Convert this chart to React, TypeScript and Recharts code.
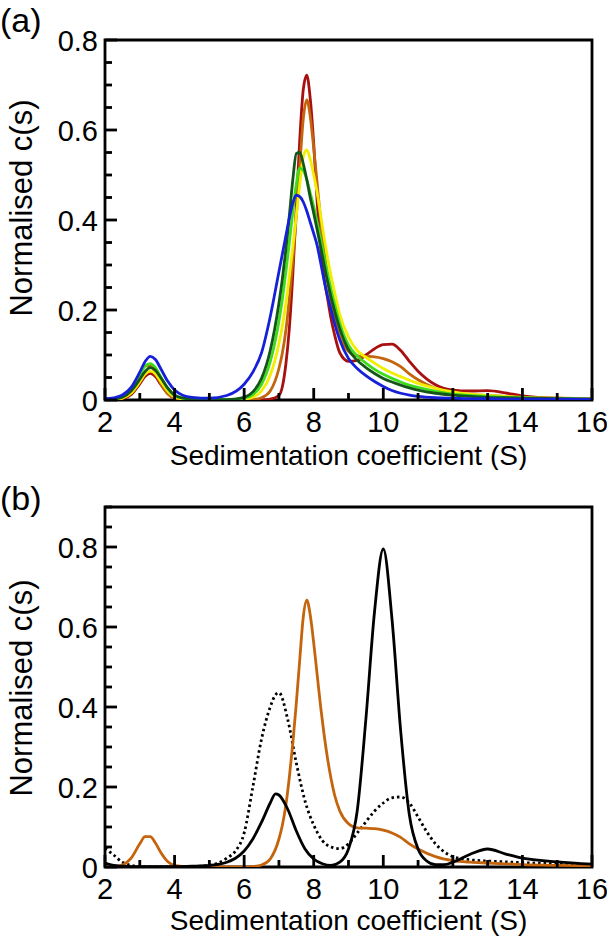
import { LineChart, Line, XAxis, YAxis, ReferenceArea, Label } from "recharts";

const FONT = '"Liberation Sans", Arial, Helvetica, sans-serif';

// sedimentation coefficient grid, panel (a) and the orange run in (b)
const X_A = [
  2, 2.25, 2.5, 2.75, 3, 3.15, 3.3, 3.45, 3.6, 3.8,
  4, 4.25, 4.5, 5, 5.5, 6, 6.25, 6.5, 6.75, 7,
  7.1, 7.2, 7.3, 7.4, 7.5, 7.6, 7.7, 7.8, 7.9, 8,
  8.1, 8.2, 8.3, 8.4, 8.5, 8.6, 8.75, 9, 9.25, 9.5,
  9.75, 10, 10.25, 10.5, 10.75, 11, 11.5, 12, 12.5, 13,
  13.5, 14, 15, 16,
];

const DARK_RED = [
  0, 0, 0.003, 0.012, 0.036, 0.052, 0.059, 0.052, 0.035, 0.015,
  0.005, 0.001, 0, 0, 0, 0, 0, 0, 0.002, 0.01,
  0.03, 0.08, 0.16, 0.28, 0.43, 0.58, 0.69, 0.722, 0.67, 0.57,
  0.44, 0.34, 0.27, 0.225, 0.18, 0.145, 0.105, 0.086, 0.088, 0.1,
  0.114, 0.123, 0.124, 0.11, 0.086, 0.064, 0.034, 0.022, 0.02, 0.021,
  0.016, 0.009, 0.004, 0.003,
];

const ORANGE = [
  0, 0.001, 0.005, 0.022, 0.058, 0.076, 0.076, 0.06, 0.037, 0.014,
  0.004, 0.001, 0, 0, 0, 0, 0.001, 0.005, 0.02, 0.07,
  0.105, 0.155, 0.225, 0.31, 0.41, 0.52, 0.625, 0.667, 0.63, 0.56,
  0.48, 0.4, 0.33, 0.27, 0.22, 0.18, 0.14, 0.108, 0.098, 0.097,
  0.096, 0.092, 0.085, 0.074, 0.058, 0.045, 0.026, 0.016, 0.012, 0.01,
  0.008, 0.006, 0.004, 0.003,
];

const YELLOW = [
  0, 0.001, 0.004, 0.015, 0.04, 0.057, 0.064, 0.058, 0.042, 0.02,
  0.007, 0.002, 0.001, 0, 0, 0.002, 0.006, 0.02, 0.055, 0.125,
  0.165, 0.215, 0.275, 0.34, 0.41, 0.48, 0.54, 0.556, 0.535, 0.5,
  0.46, 0.41, 0.36, 0.315, 0.275, 0.24, 0.19, 0.14, 0.11, 0.095,
  0.082, 0.07, 0.06, 0.052, 0.044, 0.037, 0.026, 0.018, 0.013, 0.01,
  0.008, 0.006, 0.004, 0.003,
];

const LIME = [
  0.001, 0.002, 0.007, 0.024, 0.056, 0.075, 0.081, 0.072, 0.052, 0.026,
  0.01, 0.004, 0.002, 0.001, 0.001, 0.004, 0.012, 0.035, 0.085, 0.175,
  0.225, 0.285, 0.35, 0.42, 0.48, 0.515, 0.51, 0.49, 0.46, 0.43,
  0.395, 0.357, 0.318, 0.28, 0.245, 0.213, 0.17, 0.122, 0.098, 0.082,
  0.068, 0.057, 0.048, 0.04, 0.033, 0.028, 0.019, 0.013, 0.01, 0.008,
  0.006, 0.005, 0.003, 0.002,
];

const DARK_GREEN = [
  0.001, 0.002, 0.006, 0.02, 0.046, 0.063, 0.072, 0.066, 0.05, 0.027,
  0.011, 0.004, 0.002, 0.001, 0.001, 0.006, 0.018, 0.048, 0.11, 0.215,
  0.27, 0.335, 0.41, 0.49, 0.548, 0.55, 0.525, 0.49, 0.45, 0.415,
  0.378, 0.34, 0.3, 0.262, 0.228, 0.198, 0.158, 0.112, 0.088, 0.072,
  0.059, 0.048, 0.04, 0.033, 0.027, 0.022, 0.015, 0.011, 0.008, 0.006,
  0.005, 0.004, 0.003, 0.002,
];

const BLUE = [
  0.003, 0.005, 0.011, 0.028, 0.062, 0.085, 0.097, 0.09, 0.07, 0.042,
  0.022, 0.01, 0.006, 0.004, 0.01, 0.035, 0.062, 0.105, 0.185, 0.285,
  0.325, 0.365, 0.405, 0.438, 0.455, 0.452, 0.44, 0.42, 0.395, 0.37,
  0.343, 0.305, 0.265, 0.23, 0.2, 0.17, 0.133, 0.092, 0.07, 0.054,
  0.041, 0.03, 0.021, 0.015, 0.011, 0.008, 0.005, 0.004, 0.003, 0.003,
  0.002, 0.002, 0.002, 0.002,
];

// grid for the black runs in panel (b)
const X_B = [
  2, 2.25, 2.5, 2.75, 3, 3.5, 4, 4.5, 5, 5.5,
  5.75, 6, 6.25, 6.5, 6.75, 6.9, 7, 7.25, 7.5, 7.75,
  8, 8.25, 8.5, 8.75, 9, 9.25, 9.5, 9.75, 10, 10.25,
  10.5, 10.75, 11, 11.25, 11.5, 11.75, 12, 12.5, 13, 13.5,
  14, 15, 16,
];

const BLACK = [
  0.01, 0.004, 0.002, 0.001, 0.001, 0.001, 0.001, 0.002, 0.004, 0.012,
  0.022, 0.04, 0.07, 0.112, 0.16, 0.183, 0.18, 0.145, 0.09, 0.045,
  0.02, 0.008, 0.004, 0.012, 0.045, 0.14, 0.37, 0.64, 0.795, 0.62,
  0.34, 0.13, 0.045, 0.015, 0.006, 0.006, 0.012, 0.032, 0.045, 0.033,
  0.022, 0.013, 0.007,
];

const DOTTED = [
  0.047, 0.03, 0.012, 0.004, 0.001, 0, 0, 0.001, 0.004, 0.022,
  0.04, 0.085, 0.2, 0.32, 0.4, 0.43, 0.436, 0.37, 0.26, 0.165,
  0.105, 0.066, 0.05, 0.046, 0.058, 0.085, 0.113, 0.14, 0.16, 0.173,
  0.175, 0.16, 0.125, 0.088, 0.058, 0.038, 0.026, 0.018, 0.015, 0.013,
  0.011, 0.008, 0.005,
];

const X_TICKS = [2, 3, 4, 5, 6, 7, 8, 9, 10, 11, 12, 13, 14, 15, 16];
const Y_TICKS_A = [0, 0.05, 0.1, 0.15, 0.2, 0.25, 0.3, 0.35, 0.4, 0.45, 0.5, 0.55, 0.6, 0.65, 0.7, 0.75, 0.8];
const Y_TICKS_B = [0, 0.05, 0.1, 0.15, 0.2, 0.25, 0.3, 0.35, 0.4, 0.45, 0.5, 0.55, 0.6, 0.65, 0.7, 0.75, 0.8, 0.85, 0.9];

const pts = (xs: number[], ys: number[]) => xs.map((x, i) => ({ x, y: ys[i] }));

const SERIES_A = [
  { name: "dark red", color: "#a80f0f", data: pts(X_A, DARK_RED) },
  { name: "orange", color: "#c4640c", data: pts(X_A, ORANGE) },
  { name: "yellow", color: "#f2ee00", data: pts(X_A, YELLOW) },
  { name: "lime", color: "#3fdc1a", data: pts(X_A, LIME) },
  { name: "dark green", color: "#14561a", data: pts(X_A, DARK_GREEN) },
  { name: "blue", color: "#1520d8", data: pts(X_A, BLUE) },
];

const SERIES_B = [
  { name: "dotted", color: "#000", data: pts(X_B, DOTTED), dash: "2.5 3" },
  { name: "orange", color: "#c4640c", data: pts(X_A, ORANGE) },
  { name: "black", color: "#000", data: pts(X_B, BLACK) },
];

const TICK_W = 2.8;
const TICK_FS = 29;
const isMajorY = (v: number) => Math.round(v * 100) % 20 === 0;

function BottomTick(p: any) {
  const v = p.payload.value;
  const major = v % 2 === 0;
  return (
    <g>
      <line x1={p.x} x2={p.x} y1={p.y} y2={p.y - (major ? 12 : 7)} stroke="#000" strokeWidth={TICK_W} />
      {major && (
        <text x={p.x} y={p.y + 32} textAnchor="middle" fontSize={TICK_FS} fontFamily={FONT} fill="#000">
          {v}
        </text>
      )}
    </g>
  );
}

function TopTick(p: any) {
  const major = p.payload.value % 2 === 0;
  return <line x1={p.x} x2={p.x} y1={p.y} y2={p.y + (major ? 12 : 7)} stroke="#000" strokeWidth={TICK_W} />;
}

function LeftTick(p: any) {
  const v = p.payload.value;
  const major = isMajorY(v);
  return (
    <g>
      <line x1={p.x} x2={p.x + (major ? 12 : 7)} y1={p.y} y2={p.y} stroke="#000" strokeWidth={TICK_W} />
      {major && (
        <text x={p.x - 7} y={p.y + 11} textAnchor="end" fontSize={TICK_FS} fontFamily={FONT} fill="#000">
          {v === 0 ? "0" : v.toFixed(1)}
        </text>
      )}
    </g>
  );
}

function RightTick(p: any) {
  const major = isMajorY(p.payload.value);
  return <line x1={p.x} x2={p.x - (major ? 12 : 7)} y1={p.y} y2={p.y} stroke="#000" strokeWidth={TICK_W} />;
}

interface PanelProps {
  letter: string;
  letterY: number;
  yMax: number;
  yTicks: number[];
  top: number;
  axisH: number;
  titleOffset: number;
  yTitleY: number;
  series: { name: string; color: string; data: { x: number; y: number }[]; dash?: string }[];
}

function Panel({ letter, letterY, yMax, yTicks, top, axisH, titleOffset, yTitleY, series }: PanelProps) {
  return (
    <LineChart width={607} height={470} margin={{ top, right: 15, bottom: 0, left: 0 }}>
      <XAxis
        xAxisId={0}
        type="number"
        dataKey="x"
        domain={[2, 16]}
        ticks={X_TICKS}
        interval={0}
        allowDataOverflow
        height={axisH}
        axisLine={false}
        tickLine={false}
        tickSize={0}
        tickMargin={0}
        tick={(p: any) => <BottomTick {...p} />}
      >
        <Label
          value="Sedimentation coefficient (S)"
          position="insideBottom"
          offset={titleOffset}
          fontSize={28}
          fontFamily={FONT}
          fill="#000"
        />
      </XAxis>
      <XAxis
        xAxisId="t"
        orientation="top"
        type="number"
        dataKey="x"
        domain={[2, 16]}
        ticks={X_TICKS}
        interval={0}
        height={0}
        axisLine={false}
        tickLine={false}
        tickSize={0}
        tickMargin={0}
        tick={(p: any) => <TopTick {...p} />}
      />
      <YAxis
        yAxisId={0}
        type="number"
        domain={[0, yMax]}
        ticks={yTicks}
        interval={0}
        allowDataOverflow
        width={105}
        axisLine={false}
        tickLine={false}
        tickSize={0}
        tickMargin={0}
        tick={(p: any) => <LeftTick {...p} />}
      >
        <Label
          content={() => (
            <g>
              <text x={0} y={letterY} fontSize={34} fontFamily={FONT} fill="#000">
                {letter}
              </text>
              <text
                transform={`translate(32, ${yTitleY}) rotate(-90)`}
                textAnchor="middle"
                fontSize={31}
                fontFamily={FONT}
                fill="#000"
              >
                Normalised c(s)
              </text>
            </g>
          )}
        />
      </YAxis>
      <YAxis
        yAxisId="r"
        orientation="right"
        type="number"
        domain={[0, yMax]}
        ticks={yTicks}
        interval={0}
        width={0}
        axisLine={false}
        tickLine={false}
        tickSize={0}
        tickMargin={0}
        tick={(p: any) => <RightTick {...p} />}
      />
      {series.map((s) => (
        <Line
          key={s.name}
          data={s.data}
          dataKey="y"
          type="monotone"
          stroke={s.color}
          strokeWidth={2.8}
          strokeDasharray={s.dash}
          dot={false}
          activeDot={false}
          isAnimationActive={false}
        />
      ))}
      <ReferenceArea x1={2} x2={16} y1={0} y2={yMax} fill="none" fillOpacity={0} stroke="#000" strokeWidth={2.8} />
    </LineChart>
  );
}

export default function App() {
  return (
    <div style={{ position: "absolute", top: 0, left: 0, width: 607, height: 940, background: "#fff" }}>
      <Panel
        letter="(a)"
        letterY={32}
        yMax={0.8}
        yTicks={Y_TICKS_A}
        top={40}
        axisH={70}
        titleOffset={5}
        yTitleY={208}
        series={SERIES_A}
      />
      <Panel
        letter="(b)"
        letterY={40}
        yMax={0.9}
        yTicks={Y_TICKS_B}
        top={37}
        axisH={73}
        titleOffset={10}
        yTitleY={218}
        series={SERIES_B}
      />
    </div>
  );
}
